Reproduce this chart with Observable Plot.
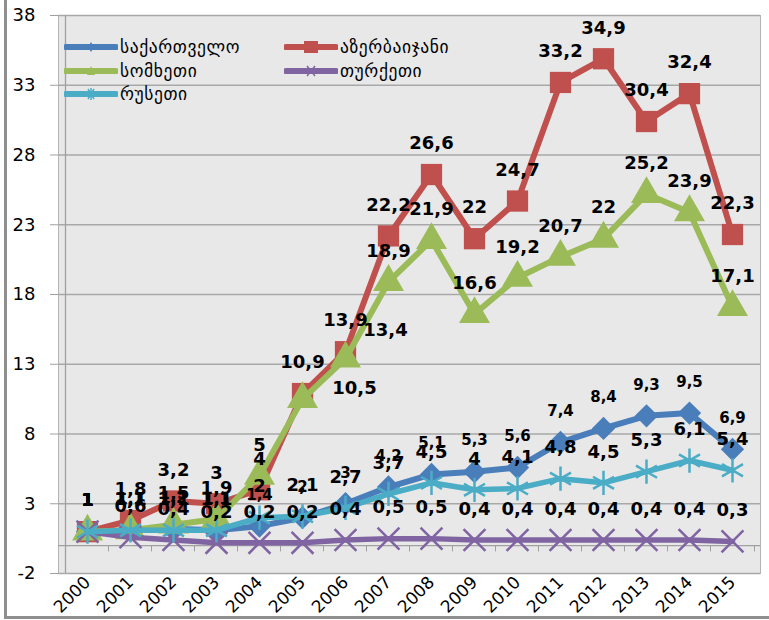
<!DOCTYPE html>
<html>
<head>
<meta charset="utf-8">
<script src="https://cdn.jsdelivr.net/npm/d3@7"></script>
<script src="https://cdn.jsdelivr.net/npm/@observablehq/plot@0.6"></script>
<style>
  html, body { margin: 0; padding: 0; background: #ffffff; }
  #wrap { position: relative; width: 769px; height: 620px; overflow: hidden; font-family: "DejaVu Sans", sans-serif; }
  #chart { position: absolute; left: 0; top: 0; }
  .legend-item { position: absolute; display: flex; align-items: center; font-family: "DejaVu Sans", sans-serif; font-size: 17.5px; color: #000; white-space: nowrap; letter-spacing: 0.6px; }
  .legend-item svg { margin-right: 2px; }
  .border-left { position: absolute; left: 4px; top: 0; width: 3px; height: 618px; background: #8f8f8f; }
  .border-bottom { position: absolute; left: 4px; top: 616px; width: 765px; height: 3px; background: #8f8f8f; }
</style>
</head>
<body>
<div id="wrap">
  <div id="chart"></div>
  <div class="border-left"></div>
  <div class="border-bottom"></div>
</div>
<script>
// ---- data ----
const years = [2000, 2001, 2002, 2003, 2004, 2005, 2006, 2007, 2008, 2009, 2010, 2011, 2012, 2013, 2014, 2015];
const georgia    = [1, 1.1, 1.2, 1.1, 1.4, 2, 3, 4.2, 5.1, 5.3, 5.6, 7.4, 8.4, 9.3, 9.5, 6.9];
const azerbaijan = [1, 1.8, 3.2, 3, 4, 10.9, 13.9, 22.2, 26.6, 22, 24.7, 33.2, 34.9, 30.4, 32.4, 22.3];
const armenia    = [1, 1.1, 1.5, 1.9, 5, 10.5, 13.4, 18.9, 21.9, 16.6, 19.2, 20.7, 22, 25.2, 23.9, 17.1];
const turkey     = [1, 0.6, 0.4, 0.2, 0.2, 0.2, 0.4, 0.5, 0.5, 0.4, 0.4, 0.4, 0.4, 0.4, 0.4, 0.3];
const russia     = [1, 1.1, 1.1, 1.1, 2, 2.1, 2.7, 3.7, 4.5, 4, 4.1, 4.8, 4.5, 5.3, 6.1, 5.4];
const seriesNames = ["საქართველო", "აზერბაიჯანი", "სომხეთი", "თურქეთი", "რუსეთი"];
const yTicks = [-2, 3, 8, 13, 18, 23, 28, 33, 38];

// ---- styling ----
const colors = ["#4a7ebb", "#c0504d", "#9bbb59", "#8064a2", "#4bacc6"];
const seriesValues = [georgia, azerbaijan, armenia, turkey, russia];
const symbols = ["diamond2", "square", "triangle", "times", "asterisk"];
const markerR = [10.5, 12, 11.5, 10, 11.5];
const lineW = [6, 6, 6, 5.5, 5.5];
const labelSize = [15, 18, 18, 18, 18];

const rows = [];
seriesNames.forEach((name, i) => {
  years.forEach((yr, j) => rows.push({series: name, idx: i, year: yr, value: seriesValues[i][j]}));
});
const fmt = v => String(v).replace(".", ",");

const marks = [
  Plot.frame({fill: "#e8e8e8", stroke: "#b4b4b4"}),
  Plot.gridY(yTicks, {stroke: "#a8a8a8", strokeOpacity: 1, strokeWidth: 1.3}),
  Plot.axisY({ticks: yTicks, tickFormat: d => String(d), tickSize: 8, tickPadding: 15, fontSize: 18, stroke: "#a0a0a0", label: null}),
  Plot.ruleX([years[0]], {x: d => d, y1: -2, y2: 38, dx: -22, stroke: "#a0a0a0", strokeWidth: 1.3}),
  Plot.ruleY([0], {stroke: "#a0a0a0", strokeWidth: 1.3}),
  Plot.ruleX(years, {x: d => d, y1: 0, y2: -0.45, dx: -22, stroke: "#a0a0a0"}),
  Plot.ruleX([years[years.length - 1]], {x: d => d, y1: 0, y2: -0.45, dx: 22, stroke: "#a0a0a0"}),
  Plot.axisX({tickRotate: -45, tickSize: 0, tickPadding: 6, fontSize: 17, label: null, tickFormat: d => String(d)})
];

seriesNames.forEach((name, i) => {
  const d = rows.filter(r => r.idx === i);
  marks.push(Plot.line(d, {x: "year", y: "value", stroke: colors[i], strokeWidth: lineW[i], strokeLinejoin: "miter", curve: "linear"}));
  const stroked = symbols[i] === "times" || symbols[i] === "asterisk";
  marks.push(Plot.dot(d, {x: "year", y: "value", symbol: symbols[i], r: markerR[i],
    fill: stroked ? "none" : colors[i], stroke: stroked ? colors[i] : "none", strokeWidth: stroked ? 2.5 : 0}));
});

seriesNames.forEach((name, i) => {
  const d = rows.filter(r => r.idx === i && !(i === 2 && (r.year === 2005 || r.year === 2006)));
  marks.push(Plot.text(d, {x: "year", y: "value", text: r => fmt(r.value), dy: -31,
    fontSize: labelSize[i], fontWeight: "bold", fill: "#000", fontFamily: "DejaVu Sans"}));
});
// Armenia 2005 / 2006 labels sit to the right of the point
marks.push(Plot.text(rows.filter(r => r.idx === 2 && r.year === 2005), {x: "year", y: "value", text: r => fmt(r.value), dx: 52, dy: -11,
  fontSize: 18, fontWeight: "bold", fill: "#000", fontFamily: "DejaVu Sans"}));
marks.push(Plot.text(rows.filter(r => r.idx === 2 && r.year === 2006), {x: "year", y: "value", text: r => fmt(r.value), dx: 40, dy: -28,
  fontSize: 18, fontWeight: "bold", fill: "#000", fontFamily: "DejaVu Sans"}));

const chart = Plot.plot({
  width: 769,
  height: 620,
  marginLeft: 58,
  marginRight: 9,
  marginTop: 15,
  marginBottom: 47,
  style: {fontFamily: "DejaVu Sans, sans-serif", background: "transparent", color: "#000"},
  x: {type: "point", domain: years, padding: 0.5},
  y: {domain: [-2, 38]},
  marks
});
document.getElementById("chart").appendChild(chart);

// ---- legend (inside plot area, top-left) ----
const legendPos = [[64, 48], [284, 48], [64, 72], [284, 72], [64, 95]];
const wrap = document.getElementById("wrap");
function markerSvg(i) {
  const c = colors[i];
  const cx = 27, cy = 8;
  let m = "";
  if (i === 0) m = `<path d="M${cx} ${cy-5} L${cx+3} ${cy} L${cx} ${cy+5} L${cx-3} ${cy} Z" fill="${c}"/>`;
  if (i === 1) m = `<rect x="${cx-7}" y="${cy-6}" width="14" height="12" fill="${c}"/>`;
  if (i === 2) m = `<path d="M${cx} ${cy-5} L${cx+4} ${cy+4} L${cx-4} ${cy+4} Z" fill="${c}"/>`;
  if (i === 3) m = `<path d="M${cx-4} ${cy-5} L${cx+4} ${cy+5} M${cx+4} ${cy-5} L${cx-4} ${cy+5}" stroke="${c}" stroke-width="1.5"/>`;
  if (i === 4) m = `<path d="M${cx-3} ${cy-5} L${cx+3} ${cy+5} M${cx+3} ${cy-5} L${cx-3} ${cy+5} M${cx} ${cy-6} L${cx} ${cy+6}" stroke="${c}" stroke-width="1.5"/>`;
  return `<svg width="54" height="16"><line x1="2" y1="${cy}" x2="52" y2="${cy}" stroke="${c}" stroke-width="6" stroke-linecap="round"/>${m}</svg>`;
}
seriesNames.forEach((name, i) => {
  const el = document.createElement("div");
  el.className = "legend-item";
  el.style.left = legendPos[i][0] + "px";
  el.style.top = (legendPos[i][1] - 11) + "px";
  el.innerHTML = markerSvg(i) + `<span>${name}</span>`;
  wrap.appendChild(el);
});
</script>
</body>
</html>
